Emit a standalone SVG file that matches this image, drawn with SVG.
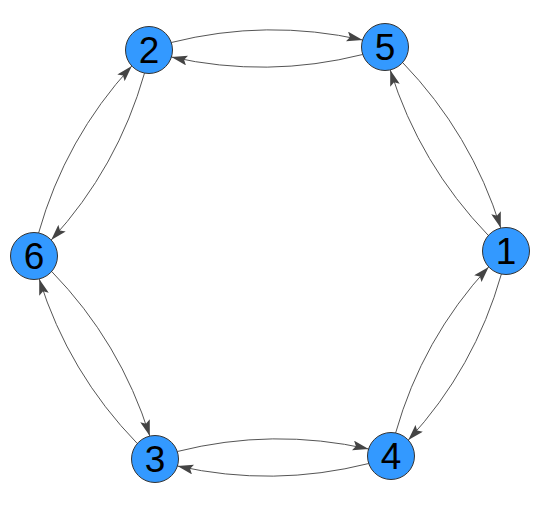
<svg xmlns="http://www.w3.org/2000/svg" width="542" height="509" viewBox="0 0 542 509">
<style>
.edge{fill:none;stroke:#555;stroke-width:1;marker-end:url(#arr)}
.node circle{fill:#3399ff;stroke:#333;stroke-width:1}
.node text{font-family:"Liberation Sans",Arial,sans-serif;font-size:37px;fill:#000;text-anchor:middle}
</style>
<defs>
<marker id="arr" markerUnits="userSpaceOnUse" markerWidth="16" markerHeight="10" refX="16" refY="5" orient="auto" viewBox="0 0 16 10">
<path d="M0,0 L16,5 L0,10 L3,5 z" fill="#444"/>
</marker>
</defs>
<rect width="542" height="509" fill="#fff"/>
<g id="connectors">
<path class="edge" d="M171.3,42.5 Q266.6,18.5 362.6,40.0"/>
<path class="edge" d="M362.7,54.5 Q267.4,78.5 171.4,57.0"/>
<path class="edge" d="M402.6,62.5 Q471.3,133.7 500.8,228.1"/>
<path class="edge" d="M488.4,235.5 Q419.7,164.3 390.2,69.9"/>
<path class="edge" d="M501.4,274.0 Q474.7,368.2 408.3,440.1"/>
<path class="edge" d="M395.6,433.0 Q422.3,338.8 488.7,266.9"/>
<path class="edge" d="M368.8,463.5 Q273.4,487.5 177.4,466.0"/>
<path class="edge" d="M177.3,451.5 Q272.6,427.5 368.6,449.0"/>
<path class="edge" d="M137.3,443.5 Q68.7,372.9 39.2,278.9"/>
<path class="edge" d="M51.7,271.5 Q120.3,342.1 149.8,436.1"/>
<path class="edge" d="M38.6,233.0 Q65.3,138.4 131.8,66.0"/>
<path class="edge" d="M144.5,73.1 Q117.7,167.6 51.2,240.0"/>
</g>
<g id="n2" class="node"><circle cx="149" cy="50" r="23.5"/><text x="149" y="63.3">2</text></g>
<g id="n5" class="node"><circle cx="385" cy="47" r="23.5"/><text x="385" y="60.3">5</text></g>
<g id="n1" class="node"><circle cx="506" cy="251" r="23.5"/><text x="506" y="264.3">1</text></g>
<g id="n4" class="node"><circle cx="391" cy="456" r="23.5"/><text x="391" y="469.3">4</text></g>
<g id="n3" class="node"><circle cx="155" cy="459" r="23.5"/><text x="155" y="472.3">3</text></g>
<g id="n6" class="node"><circle cx="34" cy="256" r="23.5"/><text x="34" y="269.3">6</text></g>
</svg>
